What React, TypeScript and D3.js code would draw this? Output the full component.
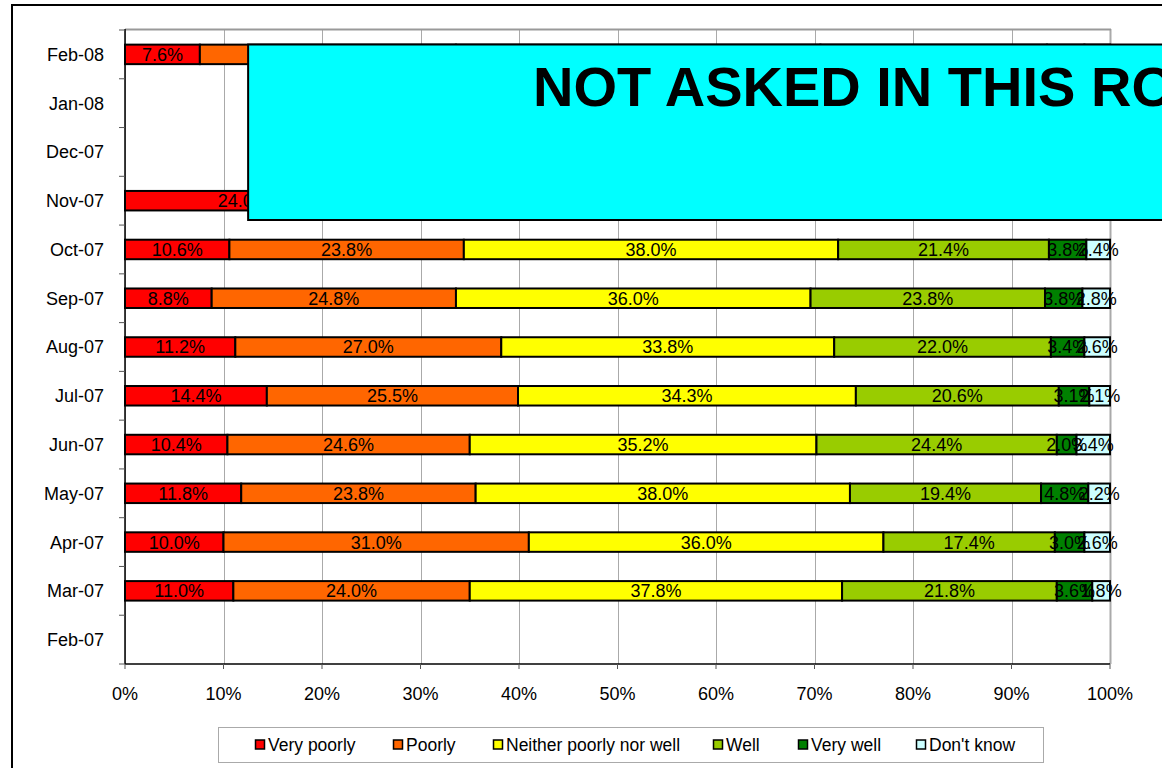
import React from "react";
import * as d3 from "d3";

const categories = ["Feb-08","Jan-08","Dec-07","Nov-07","Oct-07","Sep-07","Aug-07","Jul-07","Jun-07","May-07","Apr-07","Mar-07","Feb-07"];
const seriesNames = ["Very poorly","Poorly","Neither poorly nor well","Well","Very well","Don't know"];
const seriesColors = ["#FF0000","#FF6600","#FFFF00","#99CC00","#008000","#CCFFFF"];
const veryPoorly = [7.6, null, null, 24.0, 10.6, 8.8, 11.2, 14.4, 10.4, 11.8, 10.0, 11.0, null];
const poorly =     [26.0, null, null, 27.0, 23.8, 24.8, 27.0, 25.5, 24.6, 23.8, 31.0, 24.0, null];
const neither =    [37.0, null, null, 30.0, 38.0, 36.0, 33.8, 34.3, 35.2, 38.0, 36.0, 37.8, null];
const well =       [23.0, null, null, 14.0, 21.4, 23.8, 22.0, 20.6, 24.4, 19.4, 17.4, 21.8, null];
const veryWell =   [3.8, null, null, 3.0, 3.8, 3.8, 3.4, 3.1, 2.0, 4.8, 3.0, 3.6, null];
const dontKnow =   [2.6, null, null, 2.0, 2.4, 2.8, 2.6, 2.1, 3.4, 2.2, 2.6, 1.8, null];
const xTicks = [0,10,20,30,40,50,60,70,80,90,100];
const overlayText = "NOT ASKED IN THIS ROUND";

const W = 1162, H = 768;
const font = "Liberation Sans, Arial, sans-serif";

export default function App() {
  const series = [veryPoorly, poorly, neither, well, veryWell, dontKnow];
  const x = d3.scaleLinear().domain([0, 100]).range([125, 1110]);
  const y = d3.scaleBand<string>().domain(categories).range([30, 664]).padding(0);
  const bw = y.bandwidth();
  const barH = bw * 0.4;
  const overlayStart = x(12.5);

  const segs: any[] = [];
  categories.forEach((c, i) => {
    let acc = 0;
    series.forEach((s, k) => {
      const v = s[i];
      if (v == null) return;
      segs.push({ c, k, x0: acc, x1: acc + v, v });
      acc += v;
    });
  });

  // labels fully hidden under the overlay box are not drawn
  const visibleLabels = segs.filter(s => {
    const top = y(s.c) as number;
    const underBox = top < 220 && (x(s.x0) + x(s.x1)) / 2 - 25 > overlayStart;
    return !underBox;
  });

  const legendX = [255, 393, 493, 713, 798, 916];

  return (
    <svg width={W} height={H} style={{ position: "absolute", left: 0, top: 0, background: "#fff" }} fontFamily={font}>
      <rect x={12} y={5} width={1300} height={900} fill="#fff" stroke="#000" strokeWidth={2} />
      {/* grid */}
      {xTicks.map(t => (
        <line key={"g" + t} x1={Math.round(x(t)) + 0.5} x2={Math.round(x(t)) + 0.5} y1={29} y2={664} stroke="#aaa" strokeWidth={t === 100 ? 2 : 1} />
      ))}
      <line x1={x(0)} x2={x(100) + 1} y1={29.5} y2={29.5} stroke="#999" strokeWidth={2} />
      {/* bars */}
      {segs.map((s, i) => (
        <rect key={i} x={x(s.x0)} y={(y(s.c) as number) + (bw - barH) / 2} width={x(s.x1) - x(s.x0)} height={barH}
          fill={seriesColors[s.k]} stroke="#000" strokeWidth={2} />
      ))}
      {visibleLabels.map((s, i) => (
        <text key={"t" + i} x={(x(s.x0) + x(s.x1)) / 2} y={(y(s.c) as number) + bw / 2} dy="0.36em" textAnchor="middle" fontSize={18} fill="#000">
          {s.v.toFixed(1) + "%"}
        </text>
      ))}
      {/* y axis */}
      <line x1={125} x2={125} y1={29} y2={664} stroke="#000" strokeWidth={1.5} />
      {categories.map((c, i) => (
        <line key={"yt" + i} x1={119} x2={125} y1={(y(c) as number)} y2={(y(c) as number)} stroke="#555" strokeWidth={1} />
      ))}
      <line x1={119} x2={125} y1={664} y2={664} stroke="#555" strokeWidth={1} />
      {categories.map(c => (
        <text key={"yl" + c} x={104} y={(y(c) as number) + bw / 2} dy="0.36em" textAnchor="end" fontSize={18} fill="#000">{c}</text>
      ))}
      {/* x axis */}
      <line x1={125} x2={1110} y1={664} y2={664} stroke="#000" strokeWidth={1.5} />
      {xTicks.map(t => (
        <line key={"xt" + t} x1={x(t)} x2={x(t)} y1={664} y2={669} stroke="#555" strokeWidth={1} />
      ))}
      {xTicks.map(t => (
        <text key={"xl" + t} x={x(t)} y={694} dy="0.36em" textAnchor="middle" fontSize={18} fill="#000">{t + "%"}</text>
      ))}
      {/* overlay */}
      <rect x={overlayStart} y={44.5} width={1400} height={175.5} fill="#00FFFF" stroke="#000" strokeWidth={2} />
      <svg x={overlayStart} y={44.5} width={W - overlayStart} height={175.5} overflow="hidden">
        <text x={533 - overlayStart} y={106 - 44.5} fontSize={56} fontWeight="bold" fill="#000">{overlayText}</text>
      </svg>
      {/* legend */}
      <rect x={218.5} y={727.5} width={825} height={35} fill="#fff" stroke="#aaa" strokeWidth={1} />
      {seriesNames.map((n, k) => (
        <g key={n}>
          <rect x={legendX[k] + 0.5} y={740} width={9} height={9} fill={seriesColors[k]} stroke="#000" strokeWidth={1.5} />
          <text x={legendX[k] + 13} y={745} dy="0.36em" fontSize={17.5} fill="#000">{n}</text>
        </g>
      ))}
    </svg>
  );
}
